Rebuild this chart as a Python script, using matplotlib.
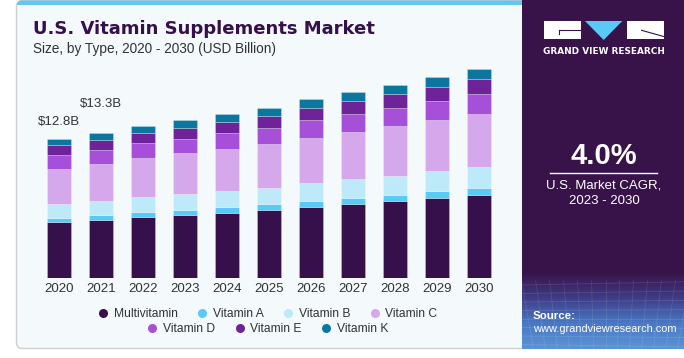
import numpy as np
import matplotlib
matplotlib.use("Agg")
import matplotlib.pyplot as plt
from matplotlib.patches import FancyBboxPatch, Rectangle, Polygon
from matplotlib.lines import Line2D
from matplotlib.colors import LinearSegmentedColormap

# ---------------- data ----------------
years = ["2020", "2021", "2022", "2023", "2024", "2025", "2026", "2027", "2028", "2029", "2030"]
multivitamin = [5.12, 5.35, 5.61, 5.80, 6.01, 6.25, 6.53, 6.80, 7.08, 7.38, 7.63]
vitamin_a = [0.39, 0.43, 0.46, 0.46, 0.52, 0.55, 0.55, 0.58, 0.55, 0.61, 0.64]
vitamin_b = [1.28, 1.31, 1.40, 1.47, 1.47, 1.49, 1.62, 1.71, 1.77, 1.83, 1.92]
vitamin_c = [3.26, 3.39, 3.57, 3.73, 3.85, 4.00, 4.18, 4.33, 4.55, 4.67, 4.88]
vitamin_d = [1.22, 1.28, 1.37, 1.31, 1.44, 1.49, 1.59, 1.62, 1.68, 1.74, 1.80]
vitamin_e = [0.91, 0.92, 0.92, 1.03, 1.03, 1.07, 1.10, 1.19, 1.25, 1.28, 1.35]
vitamin_k = [0.61, 0.61, 0.64, 0.70, 0.70, 0.76, 0.82, 0.80, 0.82, 0.89, 0.92]
series_names = ["Multivitamin", "Vitamin A", "Vitamin B", "Vitamin C", "Vitamin D", "Vitamin E", "Vitamin K"]
series_colors = ["#36104a", "#5bc9f5", "#bde9f9", "#d5a8ec", "#a64fd8", "#6e2398", "#0b779e"]
value_labels = ["$12.8B", "$13.3B"]

series = [multivitamin, vitamin_a, vitamin_b, vitamin_c, vitamin_d, vitamin_e, vitamin_k]

FONT = "Liberation Sans"
W, H = 684, 358
fig = plt.figure(figsize=(W / 100, H / 100), dpi=100)
fig.patch.set_facecolor("white")

# ---------------- background / decoration (pixel coords) ----------------
bg = fig.add_axes([0, 0, 1, 1], zorder=0)
bg.set_xlim(0, W)
bg.set_ylim(H, 0)
bg.axis("off")

card = FancyBboxPatch((16.5, 0.5), 720, 348, boxstyle="round,pad=0,rounding_size=6",
                      facecolor="#f4f9fc", edgecolor="#cfcfcf", lw=1.0)
bg.add_patch(card)
strip = Rectangle((16.5, 0), 720, 5, facecolor="#62c6ef", edgecolor="none")
bg.add_patch(strip)
strip.set_clip_path(card)

# right panel
bg.add_patch(Rectangle((521.5, 0), 163, 349, facecolor="#38134a", edgecolor="none"))
cmap = LinearSegmentedColormap.from_list("g", ["#38134a", "#3f3c86", "#4a78c4", "#5a94d6"])
grad = np.linspace(0, 1, 100).reshape(-1, 1)
bg.imshow(grad, cmap=cmap, extent=(521.5, 684, 349, 272), origin="upper", aspect="auto", zorder=2)
# faint grid texture
for k in range(8):
    yy = 285 + k * 8.5
    bg.plot([521.5, 684], [yy, yy + (k - 4) * 0.8], color="white", alpha=0.12, lw=0.6, zorder=3)
for k in range(14):
    xx = 521.5 + k * 12
    bg.plot([xx + (k - 7) * 2, xx], [280, 349], color="white", alpha=0.1, lw=0.6, zorder=3)
bg.set_xlim(0, W)
bg.set_ylim(H, 0)

# logo
bg.add_patch(Rectangle((544, 21), 36.7, 18, facecolor="white", edgecolor="none", zorder=4))
bg.add_patch(Polygon([(585, 21), (622.3, 21), (603.7, 40)], closed=True, facecolor="#5bc9f5",
                     edgecolor="none", zorder=4))
bg.add_patch(Rectangle((626.7, 21), 37, 18, facecolor="white", edgecolor="none", zorder=4))
bg.plot([559, 580.7], [30.3, 30.3], color="#38134a", lw=0.8, zorder=5)
bg.plot([559, 559], [30.3, 34], color="#38134a", lw=0.8, zorder=5)
bg.plot([641.5, 663.7], [30.3, 36.5], color="#38134a", lw=0.8, zorder=5)
bg.text(604, 51.5, "GRAND VIEW RESEARCH", color="white", fontsize=6.4, fontweight="bold",
        family="DejaVu Sans", ha="center", va="center", zorder=5)

bg.text(604, 155.5, "4.0%", color="white", fontsize=21, fontweight="bold", family=FONT,
        ha="center", va="center", zorder=5)
bg.plot([550, 656.5], [173.3, 173.3], color="white", lw=1.0, zorder=5)
bg.text(604, 186, "U.S. Market CAGR,", color="white", fontsize=9.5, family=FONT,
        ha="center", va="center", zorder=5)
bg.text(604, 201, "2023 - 2030", color="white", fontsize=9.5, family=FONT,
        ha="center", va="center", zorder=5)
bg.text(533, 316, "Source:", color="white", fontsize=8.2, fontweight="bold", family=FONT,
        ha="left", va="center", zorder=5)
bg.text(533, 329.5, "www.grandviewresearch.com", color="white", fontsize=7.9, family=FONT,
        ha="left", va="center", zorder=5)

# titles
bg.text(33, 29, "U.S. Vitamin Supplements Market", color="#36104a", fontsize=13,
        fontweight="bold", family="DejaVu Sans", ha="left", va="center", zorder=5)
bg.text(33, 49, "Size, by Type, 2020 - 2030 (USD Billion)", color="#333333", fontsize=9.8,
        family=FONT, ha="left", va="center", zorder=5)

# ---------------- main chart ----------------
ax_left, ax_right = 38 / W, 500 / W
ax_bottom, ax_top = (H - 278.3) / H, (H - 60) / H
ax = fig.add_axes([ax_left, ax_bottom, ax_right - ax_left, ax_top - ax_bottom], zorder=1)
ax.set_facecolor("none")
x = np.arange(len(years))
bottom = np.zeros(len(years))
for vals, name, col in zip(series, series_names, series_colors):
    ax.bar(x, vals, bottom=bottom, width=0.58, color=col, edgecolor=(1, 1, 1, 0.35),
           linewidth=0.5, label=name)
    bottom = bottom + np.array(vals)

label_offsets_pt = [12, 21]
for i, lab in enumerate(value_labels):
    ax.annotate(lab, (x[i], bottom[i]), xytext=(0, label_offsets_pt[i]), textcoords="offset points",
                ha="center", va="center", fontsize=9.5, family=FONT, color="#333333")

ax.set_xlim(-0.5, len(years) - 0.5)
ax.set_ylim(0, 20)
ax.set_xticks(x)
ax.set_xticklabels(years, fontsize=9.5, family=FONT, color="#333333")
ax.tick_params(axis="x", length=0, pad=3.5)
ax.set_yticks([])
for s in ax.spines.values():
    s.set_visible(False)

# legend (two centered rows)
handles = [Line2D([0], [0], marker="o", linestyle="none", markersize=6.5,
                  markerfacecolor=c, markeredgecolor="none") for c in series_colors]
common = dict(frameon=False, handlelength=0.8, handletextpad=0.5, columnspacing=1.6,
              prop={"family": FONT, "size": 8.7}, labelcolor="#333333", borderpad=0,
              handleheight=0.7)
leg1 = fig.legend(handles[:4], series_names[:4], ncol=4, loc="center",
                  bbox_to_anchor=(268 / W, (H - 314) / H), **common)
leg2 = fig.legend(handles[4:], series_names[4:], ncol=3, loc="center",
                  bbox_to_anchor=(268 / W, (H - 329) / H), **common)

fig.savefig("out.png", dpi=100, facecolor=fig.get_facecolor())
